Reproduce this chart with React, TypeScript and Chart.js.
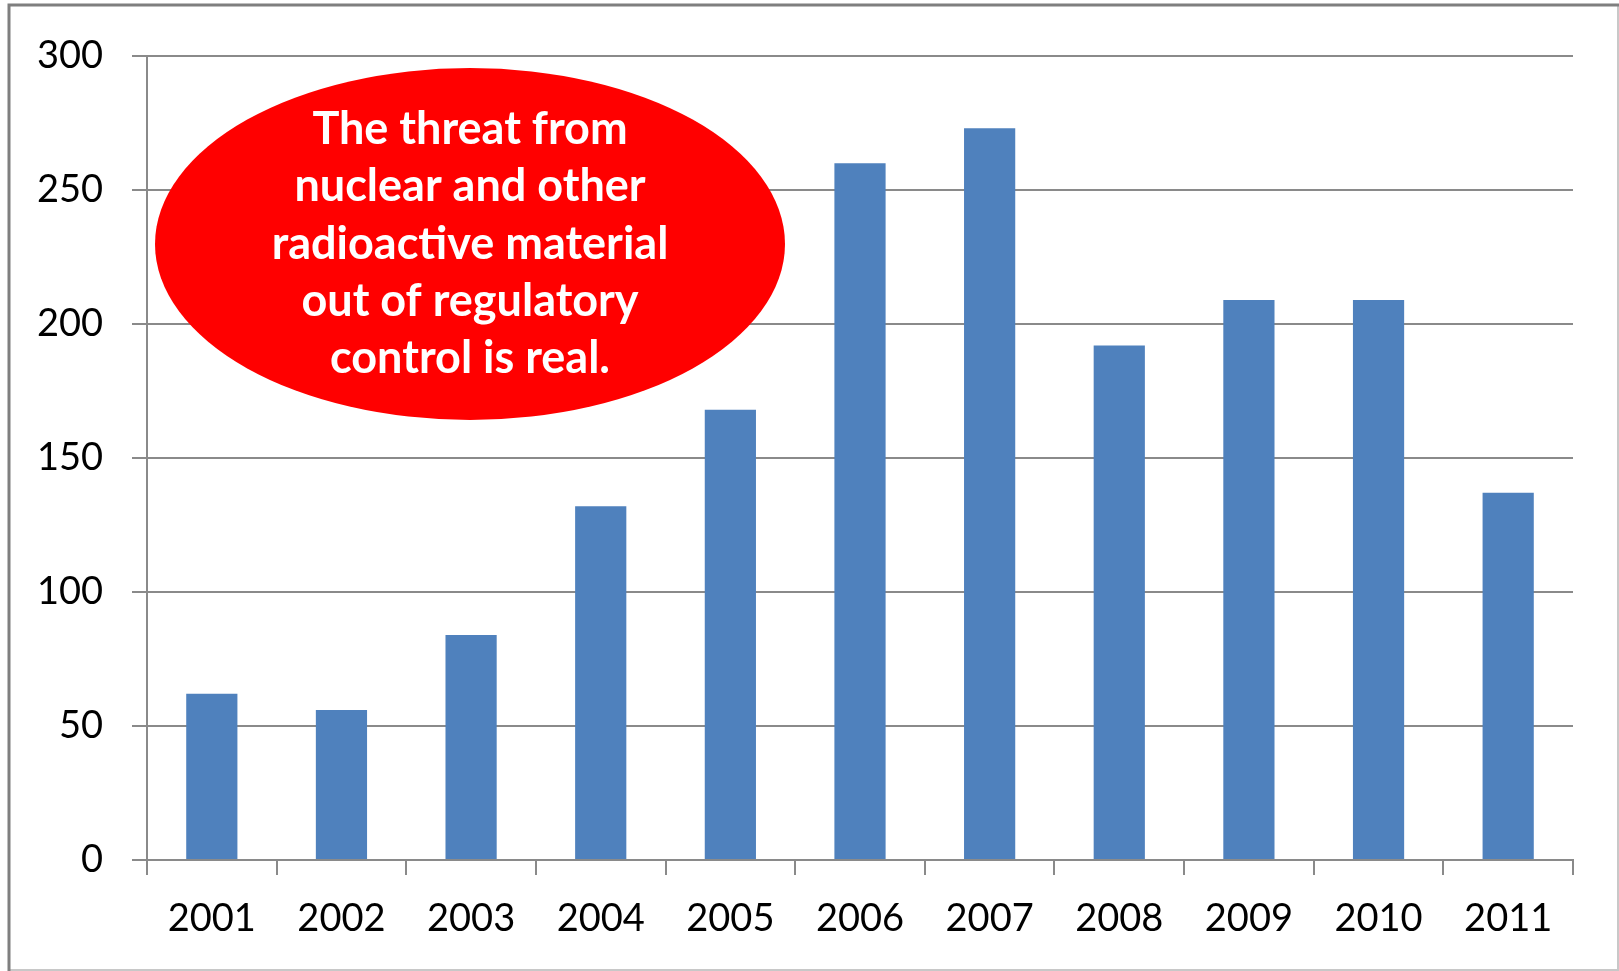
import React, { useEffect, useRef } from "react";
import { Chart, registerables } from "chart.js";

Chart.register(...registerables);

const years = ["2001", "2002", "2003", "2004", "2005", "2006", "2007", "2008", "2009", "2010", "2011"];
const incidents = [62, 56, 84, 132, 168, 260, 273, 192, 209, 209, 137];
const yMin = 0;
const yMax = 300;
const yStep = 50;
const calloutLines = [
  "The threat from",
  "nuclear and other",
  "radioactive material",
  "out of regulatory",
  "control is real.",
];

const GRAY = "#8a8a8a";

const framePlugin = {
  id: "frame",
  afterDraw(chart: any) {
    const ctx = chart.ctx;
    ctx.save();
    // outer frame
    ctx.strokeStyle = "#c8c8c8";
    ctx.lineWidth = 2;
    ctx.beginPath();
    ctx.moveTo(1618, 5);
    ctx.lineTo(1618, 970);
    ctx.lineTo(9, 970);
    ctx.stroke();
    ctx.strokeStyle = "#7f7f7f";
    ctx.lineWidth = 3;
    ctx.beginPath();
    ctx.moveTo(9, 971);
    ctx.lineTo(9, 5);
    ctx.lineTo(1619, 5);
    ctx.stroke();

    // red callout ellipse
    const cx = 470;
    const cy = 244;
    ctx.fillStyle = "#ff0000";
    ctx.beginPath();
    ctx.ellipse(cx, cy, 315, 176, 0, 0, Math.PI * 2);
    ctx.fill();
    ctx.fillStyle = "#ffffff";
    ctx.font = "bold 45px Lato";
    ctx.textAlign = "center";
    ctx.textBaseline = "middle";
    const lh = 57.3;
    const start = cy - ((calloutLines.length - 1) / 2) * lh;
    calloutLines.forEach((t, i) => ctx.fillText(t, cx, start + i * lh));
    ctx.restore();
  },
};

export default function App() {
  const ref = useRef<HTMLCanvasElement>(null);
  useEffect(() => {
    if (!ref.current) return;
    const chart = new Chart(ref.current, {
      type: "bar",
      data: {
        labels: years,
        datasets: [
          {
            data: incidents,
            backgroundColor: "#4f81bd",
            borderWidth: 0,
            categoryPercentage: 1,
            barPercentage: 0.395,
          },
        ],
      },
      options: {
        animation: false,
        responsive: true,
        maintainAspectRatio: false,
        layout: { padding: { left: 0, top: 56, right: 46, bottom: 0 } },
        plugins: { legend: { display: false }, tooltip: { enabled: false }, title: { display: false } },
        scales: {
          x: {
            afterFit: (s: any) => {
              s.height = 111;
            },
            grid: {
              display: true,
              drawOnChartArea: false,
              drawTicks: true,
              tickLength: 15,
              color: GRAY,
              lineWidth: 2,
              offset: true,
            },
            border: { display: true, color: GRAY, width: 2 },
            ticks: {
              color: "#000",
              font: { family: "Lato", size: 38 },
              padding: 21,
              maxRotation: 0,
              autoSkip: false,
            },
          },
          y: {
            min: yMin,
            max: yMax,
            afterFit: (s: any) => {
              s.width = 147;
            },
            grid: {
              color: GRAY,
              lineWidth: 2,
              drawTicks: true,
              tickLength: 15,
            },
            border: { display: true, color: GRAY, width: 2 },
            ticks: {
              stepSize: yStep,
              color: "#000",
              font: { family: "Lato", size: 38 },
              padding: 29,
            },
          },
        },
      },
      plugins: [framePlugin],
    });
    return () => chart.destroy();
  }, []);
  return (
    <div style={{ position: "absolute", left: 0, top: 0, width: 1619, height: 971, background: "#fff" }}>
      <canvas ref={ref} />
    </div>
  );
}
